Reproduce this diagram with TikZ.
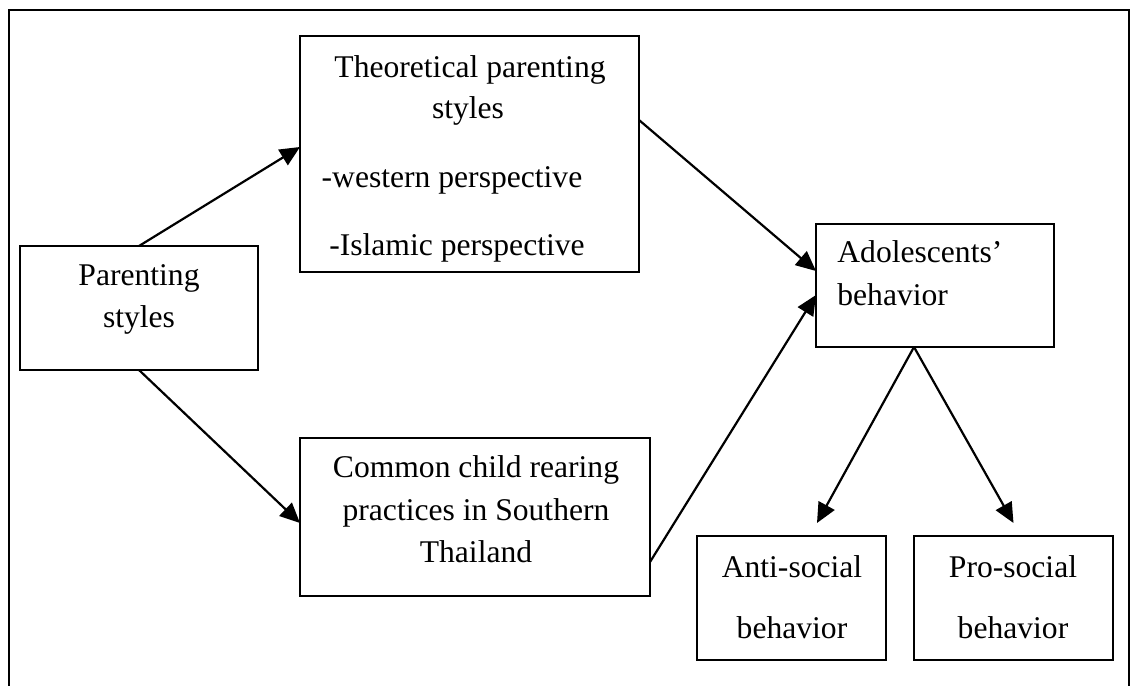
\documentclass[tikz,border=0pt]{standalone}
\usepackage{fontspec}
\setmainfont{Liberation Serif}
\usetikzlibrary{arrows.meta}
\begin{document}
\begin{tikzpicture}[x=0.5pt,y=-0.5pt,
  box/.style={draw,line width=0.8pt,rectangle,inner sep=0pt,outer sep=0pt},
  txt/.style={anchor=base,inner sep=0pt,font=\fontsize{15.8}{19}\selectfont},
  arr/.style={line width=1.1pt,-{Triangle[length=10pt,width=9pt]}}]
\useasboundingbox (0,0) rectangle (1132,686);
\draw[line width=1.1pt] (9,686) -- (9,10) -- (1129,10) -- (1129,686);
% boxes
\node[box,minimum width=119pt,minimum height=62pt] (ps) at (139,308) {};
\node[box,minimum width=169.5pt,minimum height=118pt] (th) at (469.5,154) {};
\node[box,minimum width=175pt,minimum height=79pt] (cm) at (475,517) {};
\node[box,minimum width=119pt,minimum height=61.5pt] (ad) at (935,285.5) {};
\node[box,minimum width=94.5pt,minimum height=62pt] (an) at (791.5,598) {};
\node[box,minimum width=99.5pt,minimum height=62pt] (pr) at (1013.5,598) {};
% texts
\node[txt] (ps1) at (139,285) {Parenting};
\node[txt] (ps2) at (139,327) {styles};
\node[txt] (th1) at (470,77) {Theoretical parenting};
\node[txt] (th2) at (468,118) {styles};
\node[txt] (th3) at (452,187) {-western perspective};
\node[txt] (th4) at (457,255) {-Islamic perspective};
\node[txt] (cm1) at (476,477) {Common child rearing};
\node[txt] (cm2) at (476,520) {practices in Southern};
\node[txt] (cm3) at (476,562) {Thailand};
\node[txt,anchor=base west] (ad1) at (837,262) {Adolescents’};
\node[txt,anchor=base west] (ad2) at (837,305) {behavior};
\node[txt] (an1) at (792,577) {Anti-social};
\node[txt] (an2) at (792,638) {behavior};
\node[txt] (pr1) at (1013,577) {Pro-social};
\node[txt] (pr2) at (1013,638) {behavior};
% arrows
\draw[arr] (ps.north) -- ([yshift=3.5pt]th.west);
\draw[arr] (ps.south) -- ([yshift=-3pt]cm.west);
\draw[arr] ([yshift=17pt]th.east) -- ([yshift=7.25pt]ad.west);
\draw[arr] ([yshift=-22.5pt]cm.east) -- ([yshift=-4.75pt]ad.west);
\draw[arr] ([xshift=-10.5pt]ad.south) -- ([xshift=12.75pt,yshift=6.5pt]an.north);
\draw[arr] ([xshift=-10.5pt]ad.south) -- ([yshift=6.5pt]pr.north);
\end{tikzpicture}
\end{document}
